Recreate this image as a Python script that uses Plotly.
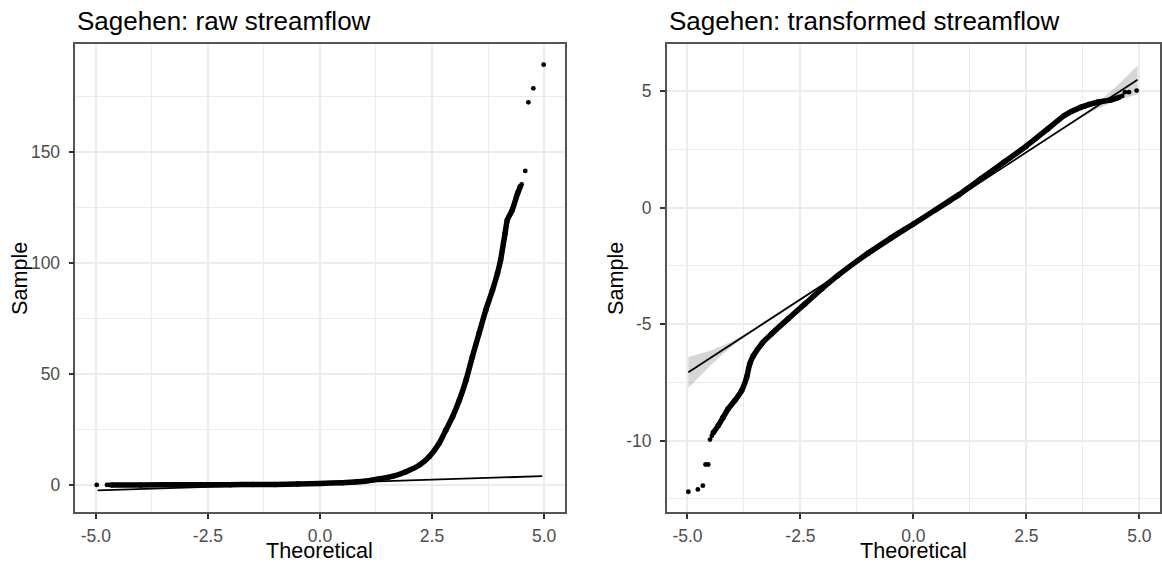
import plotly.graph_objects as go

# ---- Sagehen raw streamflow: normal QQ plot ----
# dense body of the sample quantiles (theoretical, sample)
raw_theo = [-4.65, -4.0, -3.0, -2.0, -1.5, -1.0, -0.5, 0.0, 0.5, 1.0, 1.33, 1.62,
            1.92, 2.22, 2.44, 2.66, 2.81, 2.96, 3.11, 3.26, 3.40, 3.55, 3.70, 3.85,
            3.96, 4.03, 4.13, 4.18, 4.29, 4.41, 4.47]
raw_sample = [0.03, 0.05, 0.09, 0.15, 0.20, 0.27, 0.42, 0.70, 1.05, 1.70, 2.8, 3.9,
              6.0, 9.0, 12.8, 18.8, 24.8, 30.8, 38.3, 47.3, 57.8, 68.4, 78.9, 87.9,
              95.4, 101.4, 113.5, 119.5, 124.0, 131.5, 134.6]
# isolated tail observations
raw_tail_theo = [-4.98, -4.75, -4.70, 4.50, 4.58, 4.65, 4.76, 4.99]
raw_tail_sample = [0.05, 0.05, 0.04, 135.5, 141.6, 172.5, 178.8, 189.5]
# reference line end points
raw_line_theo = [-4.96, 4.96]
raw_line_sample = [-2.45, 4.0]

# ---- Sagehen transformed streamflow: normal QQ plot ----
tr_theo = [-4.43, -4.32, -4.21, -4.10, -3.95, -3.80, -3.69, -3.62, -3.54, -3.36, -3.14,
           -2.77, -2.40, -2.03, -1.67, -1.0, -0.5, 0.0, 0.5, 1.0, 1.5, 2.0, 2.5, 2.97,
           3.34, 3.70, 4.07, 4.37, 4.55]
tr_sample = [-9.67, -9.36, -9.00, -8.64, -8.28, -7.85, -7.28, -6.70, -6.35, -5.85, -5.42,
             -4.77, -4.13, -3.49, -2.91, -1.95, -1.30, -0.70, -0.08, 0.55, 1.25, 1.95,
             2.65, 3.38, 3.96, 4.31, 4.53, 4.63, 4.74]
tr_tail_theo = [-4.98, -4.77, -4.66, -4.60, -4.54, -4.50, -4.46, 4.62, 4.68, 4.77, 4.94]
tr_tail_sample = [-12.20, -12.10, -11.94, -11.03, -11.03, -9.96, -9.80, 4.80, 4.96, 4.96, 5.03]
tr_line_theo = [-4.98, 4.96]
tr_line_sample = [-7.07, 5.49]
# confidence band around the reference line
band_theo = [-4.98, -4.75, -4.5, -4.25, -4.0, -3.75, -3.5, 0.0, 3.5, 3.75, 4.0, 4.25,
             4.5, 4.75, 4.96]
band_lower = [-7.73, -7.28, -6.80, -6.35, -5.93, -5.57, -5.22, -0.79, 3.62, 3.91, 4.17,
              4.40, 4.59, 4.74, 4.87]
band_upper = [-6.41, -6.28, -6.14, -5.95, -5.73, -5.47, -5.18, -0.77, 3.66, 4.01, 4.37,
              4.78, 5.23, 5.70, 6.11]

x_tickvals = [-5.0, -2.5, 0.0, 2.5, 5.0]
x_ticktext = ["-5.0", "-2.5", "0.0", "2.5", "5.0"]
raw_y_tickvals = [0, 50, 100, 150]
raw_y_ticktext = ["0", "50", "100", "150"]
tr_y_tickvals = [-10, -5, 0, 5]
tr_y_ticktext = ["-10", "-5", "0", "5"]

W, H = 1162, 565
FONT = "Liberation Sans, Arial, Helvetica, sans-serif"
GRID = "#EBEBEB"
BORDER = "#555555"
TICK = "#333333"

fig = go.Figure()

def add_panel(xa, ya, theo, sample, tail_t, tail_s, line_t, line_s):
    fig.add_trace(go.Scatter(x=theo, y=sample, mode="lines+markers",
                             line=dict(color="black", width=5.5, shape="spline", smoothing=0.5),
                             marker=dict(color="black", size=5.5),
                             xaxis=xa, yaxis=ya, hoverinfo="skip", showlegend=False))
    fig.add_trace(go.Scatter(x=tail_t, y=tail_s, mode="markers",
                             marker=dict(color="black", size=4.8, line=dict(width=0)),
                             xaxis=xa, yaxis=ya, hoverinfo="skip", showlegend=False))
    fig.add_trace(go.Scatter(x=line_t, y=line_s, mode="lines",
                             line=dict(color="black", width=1.8),
                             xaxis=xa, yaxis=ya, hoverinfo="skip", showlegend=False))

add_panel("x", "y", raw_theo, raw_sample, raw_tail_theo, raw_tail_sample,
          raw_line_theo, raw_line_sample)

# band for the transformed panel drawn first so the points sit on top of it
fig.add_trace(go.Scatter(x=band_theo, y=band_lower, mode="lines", line=dict(width=0),
                         xaxis="x2", yaxis="y2", hoverinfo="skip", showlegend=False))
fig.add_trace(go.Scatter(x=band_theo, y=band_upper, mode="lines", line=dict(width=0),
                         fill="tonexty", fillcolor="rgba(153,153,153,0.4)",
                         xaxis="x2", yaxis="y2", hoverinfo="skip", showlegend=False))
add_panel("x2", "y2", tr_theo, tr_sample, tr_tail_theo, tr_tail_sample,
          tr_line_theo, tr_line_sample)

top_px, bot_px = 44, 512
ydom = [1 - bot_px / H, 1 - top_px / H]
left_dom = [75.5 / W, 565.5 / W]
right_dom = [668 / W, 1.0]

def xaxis_cfg(dom, anchor):
    return dict(domain=dom, anchor=anchor, range=[-5.456, 5.456],
                tickvals=x_tickvals, ticktext=x_ticktext,
                showgrid=True, gridcolor=GRID, gridwidth=2,
                minor=dict(tick0=0, dtick=1.25, showgrid=True, gridcolor=GRID, gridwidth=1.1),
                zeroline=False, showline=True, linecolor=BORDER, linewidth=1.5, mirror=True,
                ticks="outside", ticklen=5, tickwidth=1.8, tickcolor=TICK,
                ticklabelstandoff=2,
                tickfont=dict(family=FONT, size=17.5, color="#4D4D4D"))

def yaxis_cfg(anchor, rng, tv, tt, minor_dtick):
    return dict(domain=ydom, anchor=anchor, range=rng, tickvals=tv, ticktext=tt,
                showgrid=True, gridcolor=GRID, gridwidth=2,
                minor=dict(tick0=0, dtick=minor_dtick, showgrid=True, gridcolor=GRID,
                           gridwidth=1.1),
                zeroline=False, showline=True, linecolor=BORDER, linewidth=1.5, mirror=True,
                ticks="outside", ticklen=5, tickwidth=1.8, tickcolor=TICK,
                ticklabelstandoff=5,
                tickfont=dict(family=FONT, size=17.5, color="#4D4D4D"))

fig.update_layout(
    width=W, height=H, margin=dict(l=0, r=0, t=0, b=0),
    paper_bgcolor="white", plot_bgcolor="white",
    xaxis=xaxis_cfg(left_dom, "y"),
    yaxis=yaxis_cfg("x", [-12.17, 198.8], raw_y_tickvals, raw_y_ticktext, 25),
    xaxis2=xaxis_cfg(right_dom, "y2"),
    yaxis2=yaxis_cfg("x2", [-13.07, 7.03], tr_y_tickvals, tr_y_ticktext, 2.5),
)

def pap_y(px):
    return 1 - px / H

annots = [
    dict(text="Sagehen: raw streamflow", x=left_dom[0], y=pap_y(21), xanchor="left",
         yanchor="middle", font=dict(family=FONT, size=26, color="black")),
    dict(text="Sagehen: transformed streamflow", x=right_dom[0], y=pap_y(21), xanchor="left",
         yanchor="middle", font=dict(family=FONT, size=26, color="black")),
    dict(text="Theoretical", x=sum(left_dom) / 2, y=0, xanchor="center",
         yanchor="bottom", font=dict(family=FONT, size=21.6, color="black")),
    dict(text="Theoretical", x=sum(right_dom) / 2, y=0, xanchor="center",
         yanchor="bottom", font=dict(family=FONT, size=21.6, color="black")),
    dict(text="Sample", x=19 / W, y=pap_y((top_px + bot_px) / 2), textangle=-90,
         xanchor="center", yanchor="middle", font=dict(family=FONT, size=21.6, color="black")),
    dict(text="Sample", x=616 / W, y=pap_y((top_px + bot_px) / 2), textangle=-90,
         xanchor="center", yanchor="middle", font=dict(family=FONT, size=21.6, color="black")),
]
for a in annots:
    a.update(xref="paper", yref="paper", showarrow=False)
fig.update_layout(annotations=annots)

fig.write_html("out.html")
